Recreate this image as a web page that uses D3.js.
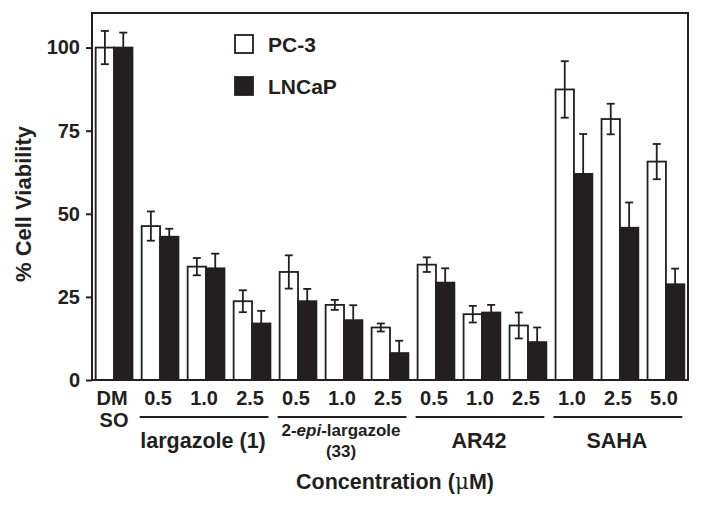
<!DOCTYPE html>
<html>
<head>
<meta charset="utf-8">
<script src="https://cdn.jsdelivr.net/npm/d3@7"></script>
<style>
  body { margin: 0; background: #fff; }
  svg text { font-family: "Liberation Sans", Arial, Helvetica, sans-serif; font-weight: bold; fill: #231f20; }
</style>
</head>
<body>
<div id="chart"></div>
<script>
var width = 701, height = 506;
var ink = "#231f20";

// concentrations (uM) per bar group, first one is the DMSO control
var concLabels = ["DMSO", "0.5", "1.0", "2.5", "0.5", "1.0", "2.5", "0.5", "1.0", "2.5", "1.0", "2.5", "5.0"];

// % cell viability
var pc3 = [100, 46.3, 34.1, 23.7, 32.5, 22.6, 15.8, 34.7, 19.8, 16.4, 87.4, 78.5, 65.7];
var pc3Err = [5, 4.4, 2.6, 3.3, 5, 1.5, 1.2, 2.2, 2.5, 3.9, 8.5, 4.6, 5.3];
var lncap = [100, 43.1, 33.6, 17.0, 23.7, 18.0, 8.1, 29.3, 20.3, 11.4, 62.0, 45.8, 28.8];
var lncapErr = [4.5, 2.4, 4.4, 3.8, 3.7, 4.5, 3.7, 4.3, 2.3, 4.4, 12, 7.6, 4.7];

var seriesNames = ["PC-3", "LNCaP"];
var yTicks = [0, 25, 50, 75, 100];

// compound groups under the concentration labels
var groupNames = ["largazole (1)", "2-epi-largazole (33)", "AR42", "SAHA"];
var groupFirst = [1, 4, 7, 10];
var groupLast = [3, 6, 9, 12];

var svg = d3.select("#chart").append("svg")
    .attr("width", width)
    .attr("height", height);

var x = d3.scaleBand()
    .domain(d3.range(concLabels.length))
    .range([92, 688])
    .paddingInner(0.2)
    .paddingOuter(0.08);

var xSub = d3.scaleBand()
    .domain(seriesNames)
    .range([0, x.bandwidth()]);

var y = d3.scaleLinear()
    .domain([0, 110.4])
    .range([380, 13]);

var rows = concLabels.map(function(c, i) {
    return { i: i, values: [
        { s: "PC-3", v: pc3[i], e: pc3Err[i] },
        { s: "LNCaP", v: lncap[i], e: lncapErr[i] }
    ]};
});

// bars
var grp = svg.selectAll(".grp")
    .data(rows)
    .enter().append("g")
    .attr("class", "grp")
    .attr("transform", function(d) { return "translate(" + x(d.i) + ",0)"; });

grp.selectAll("rect")
    .data(function(d) { return d.values; })
    .enter().append("rect")
    .attr("x", function(d) { return xSub(d.s); })
    .attr("y", function(d) { return y(d.v); })
    .attr("width", xSub.bandwidth())
    .attr("height", function(d) { return y(0) - y(d.v); })
    .attr("fill", function(d) { return d.s == "PC-3" ? "#fff" : ink; })
    .attr("stroke", ink)
    .attr("stroke-width", 1.8);

// error bars
var err = grp.selectAll(".err")
    .data(function(d) { return d.values; })
    .enter().append("g")
    .attr("class", "err")
    .attr("stroke", ink)
    .attr("stroke-width", 1.8);

err.append("line")
    .attr("x1", function(d) { return xSub(d.s) + xSub.bandwidth() / 2; })
    .attr("x2", function(d) { return xSub(d.s) + xSub.bandwidth() / 2; })
    .attr("y1", function(d) { return y(d.v - d.e); })
    .attr("y2", function(d) { return y(d.v + d.e); });

err.selectAll(".cap")
    .data(function(d) { return [d.v - d.e, d.v + d.e].map(function(v) { return { s: d.s, v: v }; }); })
    .enter().append("line")
    .attr("x1", function(d) { return xSub(d.s) + xSub.bandwidth() / 2 - 4; })
    .attr("x2", function(d) { return xSub(d.s) + xSub.bandwidth() / 2 + 4; })
    .attr("y1", function(d) { return y(d.v); })
    .attr("y2", function(d) { return y(d.v); });

// frame
svg.append("rect")
    .attr("x", 92)
    .attr("y", 13)
    .attr("width", 688 - 92)
    .attr("height", 380 - 13)
    .attr("fill", "none")
    .attr("stroke", ink)
    .attr("stroke-width", 2);

// y axis
var yAxis = svg.append("g")
    .attr("transform", "translate(92,0)")
    .call(d3.axisLeft(y).tickValues(yTicks).tickSize(6).tickPadding(6));
yAxis.select(".domain").remove();
yAxis.selectAll("line").attr("stroke", ink).attr("stroke-width", 2);
yAxis.selectAll("text")
    .attr("font-family", null)
    .attr("font-size", null)
    .style("font-size", "20px");

// x axis labels
var xAxis = svg.append("g")
    .attr("transform", "translate(0,380)")
    .call(d3.axisBottom(x).tickSize(0).tickPadding(11).tickFormat(function(i) { return concLabels[i]; }));
xAxis.select(".domain").remove();
xAxis.selectAll("text")
    .attr("font-family", null)
    .attr("font-size", null)
    .attr("dx", -2)
    .style("font-size", "20px");

xAxis.selectAll(".tick text")
    .filter(function(i) { return concLabels[i] == "DMSO"; })
    .text(null)
    .each(function() {
        var t = d3.select(this);
        t.append("tspan").attr("x", 0).text("DM");
        t.append("tspan").attr("x", 0).attr("dy", 22).text("SO");
    });

// group underlines and names
var groups = svg.selectAll(".cmpd")
    .data(groupNames)
    .enter().append("g")
    .attr("class", "cmpd");

groups.append("line")
    .attr("x1", function(d, k) { return x(groupFirst[k]) - 2; })
    .attr("x2", function(d, k) { return x(groupLast[k]) + x.bandwidth() - 2; })
    .attr("y1", 417)
    .attr("y2", 417)
    .attr("stroke", ink)
    .attr("stroke-width", 2);

groups.each(function(d, k) {
    var g = d3.select(this);
    var cx = (x(groupFirst[k]) + x(groupLast[k]) + x.bandwidth()) / 2 - 3;
    if (d.indexOf("2-epi") === 0) {
        var l1 = g.append("text")
            .attr("text-anchor", "middle")
            .attr("x", cx)
            .attr("y", 436)
            .style("font-size", "17px");
        l1.append("tspan").text("2-");
        l1.append("tspan").style("font-style", "italic").text("epi");
        l1.append("tspan").text("-largazole");
        g.append("text")
            .attr("text-anchor", "middle")
            .attr("x", cx)
            .attr("y", 457)
            .style("font-size", "17px")
            .text("(33)");
    } else {
        g.append("text")
            .attr("text-anchor", "middle")
            .attr("x", cx)
            .attr("y", 448)
            .style("font-size", "21.5px")
            .text(d);
    }
});

// axis titles
var xt = svg.append("text")
    .attr("text-anchor", "middle")
    .attr("x", 395)
    .attr("y", 489)
    .style("font-size", "21.5px");
xt.append("tspan").text("Concentration (");
xt.append("tspan").style("font-family", "'DejaVu Serif', 'Liberation Serif', serif").style("font-weight", "normal").text("\u03bc");
xt.append("tspan").text("M)");

svg.append("text")
    .attr("text-anchor", "middle")
    .attr("transform", "translate(31,204) rotate(-90)")
    .style("font-size", "22px")
    .text("% Cell Viability");

// legend
var legend = svg.selectAll(".legend")
    .data(seriesNames)
    .enter().append("g")
    .attr("class", "legend")
    .attr("transform", function(d, k) { return "translate(235," + (35 + k * 42) + ")"; });

legend.append("rect")
    .attr("width", 18)
    .attr("height", 18)
    .attr("fill", function(d) { return d == "PC-3" ? "#fff" : ink; })
    .attr("stroke", ink)
    .attr("stroke-width", 1.8);

legend.append("text")
    .attr("x", 33)
    .attr("y", 17)
    .style("font-size", "21px")
    .text(function(d) { return d; });
</script>
</body>
</html>
